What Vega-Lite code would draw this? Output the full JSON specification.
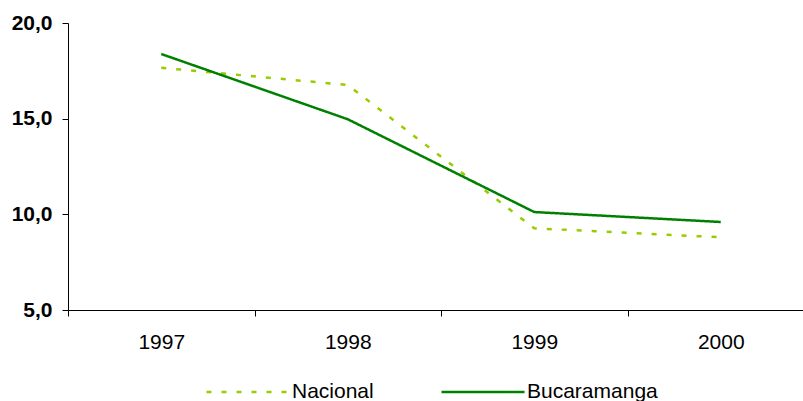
{
  "$schema": "https://vega.github.io/schema/vega-lite/v6.json",
  "width": 735,
  "height": 287,
  "autosize": {"type": "none"},
  "padding": {"left": 68, "top": 23, "right": 0, "bottom": 91},
  "background": "white",
  "config": {
    "view": {"stroke": null},
    "font": "Liberation Sans",
    "axis": {"domainColor": "black", "tickColor": "black", "labelColor": "black", "grid": false}
  },
  "data": {
    "values": [
      {"year": 1997, "series": "Nacional", "value": 17.66},
      {"year": 1998, "series": "Nacional", "value": 16.76},
      {"year": 1999, "series": "Nacional", "value": 9.27},
      {"year": 2000, "series": "Nacional", "value": 8.8},
      {"year": 1997, "series": "Bucaramanga", "value": 18.38},
      {"year": 1998, "series": "Bucaramanga", "value": 14.97},
      {"year": 1999, "series": "Bucaramanga", "value": 10.12},
      {"year": 2000, "series": "Bucaramanga", "value": 9.6}
    ]
  },
  "mark": {"type": "line", "strokeWidth": 2.5},
  "encoding": {
    "x": {
      "field": "year",
      "type": "quantitative",
      "scale": {"domain": [1996.5, 2000.441], "nice": false, "zero": false},
      "axis": {
        "title": null,
        "values": [1996.5, 1997, 1997.5, 1998, 1998.5, 1999, 1999.5, 2000],
        "labelExpr": "datum.value % 1 == 0 ? format(datum.value, 'd') : ''",
        "tickOpacity": {"condition": {"test": "datum.value % 1 == 0", "value": 0}, "value": 1},
        "tickSize": 6,
        "labelFontSize": 21,
        "labelPadding": 15,
        "labelOverlap": false,
        "labelFlush": false,
        "labelBound": false,
        "domainWidth": 1
      }
    },
    "y": {
      "field": "value",
      "type": "quantitative",
      "scale": {"domain": [5, 20], "nice": false, "zero": false},
      "axis": {
        "title": null,
        "values": [5, 10, 15, 20],
        "labelExpr": "replace(format(datum.value, '.1f'), '.', ',')",
        "labelFontSize": 21,
        "labelFontWeight": "bold",
        "tickSize": 6,
        "labelPadding": 10,
        "domainWidth": 1
      }
    },
    "color": {
      "field": "series",
      "type": "nominal",
      "scale": {"domain": ["Nacional", "Bucaramanga"], "range": ["#99CC00", "#008000"]},
      "legend": {
        "title": null,
        "orient": "none",
        "direction": "horizontal",
        "legendX": 137,
        "legendY": 326,
        "symbolType": "stroke",
        "symbolSize": 6889,
        "symbolStrokeWidth": 2.5,
        "labelFontSize": 21,
        "labelColor": "black",
        "labelOffset": 1,
        "columnPadding": 62
      }
    },
    "strokeDash": {
      "field": "series",
      "type": "nominal",
      "scale": {"domain": ["Nacional", "Bucaramanga"], "range": [[5, 10], [1, 0]]},
      "legend": {
        "title": null,
        "orient": "none",
        "direction": "horizontal",
        "legendX": 137,
        "legendY": 326,
        "symbolType": "stroke",
        "symbolSize": 6889,
        "symbolStrokeWidth": 2.5,
        "labelFontSize": 21,
        "labelColor": "black",
        "labelOffset": 1,
        "columnPadding": 62
      }
    }
  }
}
